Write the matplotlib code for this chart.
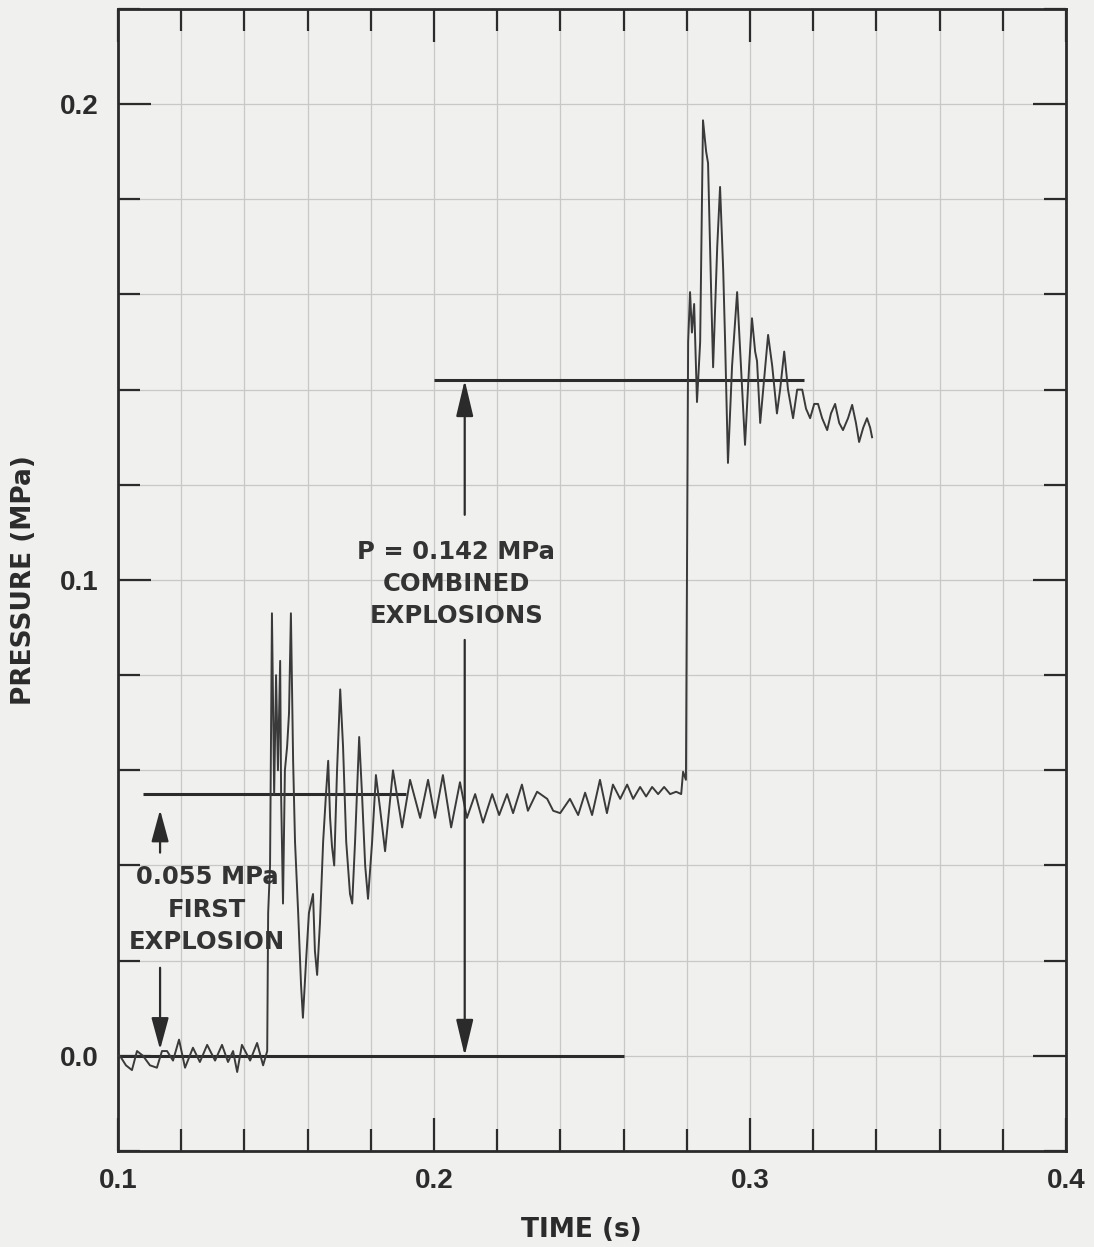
import matplotlib
matplotlib.use("Agg")
import matplotlib.pyplot as plt
from matplotlib.ticker import MultipleLocator, FixedLocator

# Pressure trace: time (s) and pressure (MPa) at the turning points of the record
time_s = [
    0.1000, 0.1006, 0.1025, 0.1044, 0.1060, 0.1079, 0.1101, 0.1123, 0.1139, 0.1155,
    0.1174, 0.1193, 0.1212, 0.1237, 0.1259, 0.1282, 0.1307, 0.1329, 0.1348, 0.1364,
    0.1377, 0.1392, 0.1418, 0.1440, 0.1459, 0.1472,
    0.1475, 0.1481, 0.1487, 0.1494, 0.1500, 0.1506, 0.1513, 0.1516, 0.1522, 0.1528,
    0.1535, 0.1541, 0.1547, 0.1554, 0.1560, 0.1570, 0.1579, 0.1585, 0.1595, 0.1604,
    0.1617, 0.1623, 0.1630, 0.1639, 0.1649, 0.1658, 0.1665, 0.1671, 0.1677, 0.1684,
    0.1693, 0.1703, 0.1712, 0.1722, 0.1734, 0.1741, 0.1750, 0.1763, 0.1772, 0.1782,
    0.1791, 0.1804, 0.1816, 0.1829, 0.1845, 0.1870, 0.1899, 0.1924, 0.1956, 0.1981,
    0.2003, 0.2028, 0.2054, 0.2082, 0.2104, 0.2130, 0.2155, 0.2184, 0.2206, 0.2231,
    0.2250, 0.2278, 0.2297, 0.2326, 0.2358, 0.2377, 0.2399, 0.2430, 0.2456, 0.2478,
    0.2500, 0.2525, 0.2547, 0.2566, 0.2589, 0.2611, 0.2630, 0.2652, 0.2671, 0.2690,
    0.2709, 0.2728, 0.2747, 0.2766, 0.2782, 0.2788, 0.2797,
    0.2804, 0.2810, 0.2816, 0.2823, 0.2832, 0.2842, 0.2851, 0.2861, 0.2867, 0.2877,
    0.2883, 0.2896, 0.2905, 0.2915, 0.2921, 0.2930, 0.2943, 0.2959, 0.2968, 0.2975,
    0.2984, 0.2997, 0.3006, 0.3016, 0.3022, 0.3032, 0.3044, 0.3057, 0.3070, 0.3085,
    0.3095, 0.3108, 0.3120, 0.3136, 0.3149, 0.3165, 0.3177, 0.3190, 0.3203, 0.3215,
    0.3228, 0.3244, 0.3256, 0.3269, 0.3282, 0.3294, 0.3310, 0.3323, 0.3335, 0.3345,
    0.3358, 0.3370, 0.3380, 0.3386,
]
pressure_mpa = [
    0.0000, 0.0000, -0.0020, -0.0030, 0.0010, 0.0000, -0.0020, -0.0025, 0.0010, 0.0010,
    -0.0010, 0.0034, -0.0025, 0.0017, -0.0013, 0.0023, -0.0010, 0.0023, -0.0013, 0.0010,
    -0.0034, 0.0023, -0.0010, 0.0027, -0.0020, 0.0010,
    0.0300, 0.0400, 0.0930, 0.0550, 0.0800, 0.0600, 0.0830, 0.0550, 0.0320, 0.0600,
    0.0650, 0.0720, 0.0930, 0.0620, 0.0450, 0.0300, 0.0150, 0.0080, 0.0200, 0.0300,
    0.0340, 0.0220, 0.0170, 0.0280, 0.0450, 0.0550, 0.0620, 0.0500, 0.0440, 0.0400,
    0.0600, 0.0770, 0.0650, 0.0450, 0.0340, 0.0320, 0.0450, 0.0670, 0.0550, 0.0400,
    0.0330, 0.0450, 0.0590, 0.0520, 0.0430, 0.0600, 0.0480, 0.0580, 0.0500, 0.0580,
    0.0500, 0.0590, 0.0480, 0.0575, 0.0500, 0.0550, 0.0490, 0.0550, 0.0506, 0.0550,
    0.0510, 0.0570, 0.0515, 0.0555, 0.0540, 0.0515, 0.0510, 0.0540, 0.0506, 0.0553,
    0.0506, 0.0580, 0.0510, 0.0570, 0.0540, 0.0570, 0.0540, 0.0565, 0.0545, 0.0565,
    0.0550, 0.0565, 0.0550, 0.0555, 0.0550, 0.0597, 0.0580,
    0.1500, 0.1605, 0.1520, 0.1580, 0.1374, 0.1500, 0.1966, 0.1900, 0.1876, 0.1600,
    0.1447, 0.1700, 0.1826, 0.1650, 0.1500, 0.1246, 0.1450, 0.1605, 0.1490, 0.1400,
    0.1284, 0.1450, 0.1550, 0.1480, 0.1460, 0.1330, 0.1420, 0.1515, 0.1450, 0.1350,
    0.1400, 0.1480, 0.1400, 0.1340, 0.1400, 0.1400, 0.1360, 0.1340, 0.1370, 0.1370,
    0.1340, 0.1315, 0.1350, 0.1370, 0.1330, 0.1315, 0.1340, 0.1368, 0.1330, 0.1290,
    0.1320, 0.1340, 0.1320, 0.1300,
]

# Reference levels: (pressure, start time, end time)
baseline = (0.0, 0.100, 0.260)
first_level = (0.055, 0.108, 0.191)
combined_level = (0.142, 0.200, 0.317)

x_ticks = [0.1, 0.2, 0.3, 0.4]
x_tick_labels = ["0.1", "0.2", "0.3", "0.4"]
y_ticks = [0.0, 0.1, 0.2]
y_tick_labels = ["0.0", "0.1", "0.2"]

BG = "#f0f0ee"
INK = "#2b2b2b"
TICK_FONT = "Liberation Sans"
LABEL_FONT = "DejaVu Sans"

fig = plt.figure(figsize=(10.94, 12.47), dpi=100, facecolor=BG)
ax = fig.add_axes([0.1079, 0.0770, 0.8666, 0.9158], facecolor=BG)

ax.set_xlim(0.1, 0.4)
ax.set_ylim(-0.02, 0.22)

# grid every 0.02 in both directions
ax.xaxis.set_major_locator(FixedLocator(x_ticks))
ax.yaxis.set_major_locator(FixedLocator(y_ticks))
ax.xaxis.set_minor_locator(MultipleLocator(0.02))
ax.yaxis.set_minor_locator(MultipleLocator(0.02))
ax.grid(which="both", color="#c8c8c6", lw=0.9, zorder=0)

ax.set_xticklabels(x_tick_labels, fontfamily=TICK_FONT, fontweight="bold", fontsize=20, color=INK)
ax.set_yticklabels(y_tick_labels, fontfamily=TICK_FONT, fontweight="bold", fontsize=20, color=INK)

ax.tick_params(which="both", direction="in", top=True, right=True, color=INK, width=1.6)
ax.tick_params(which="major", length=24)
ax.tick_params(which="minor", length=16)
ax.tick_params(axis="x", which="major", pad=12)
ax.tick_params(axis="y", which="major", pad=14)

for sp in ax.spines.values():
    sp.set_color(INK)
    sp.set_linewidth(2.0)

# reference levels
for level, t0, t1 in (baseline, first_level, combined_level):
    ax.plot([t0, t1], [level, level], color=INK, lw=2.2, zorder=3, solid_capstyle="butt")

# measured pressure trace
ax.plot(time_s, pressure_mpa, color="#3a3a3a", lw=1.4, zorder=4)

# dimension arrows
big_arrow = dict(arrowstyle="-|>,head_length=1.6,head_width=0.38", color=INK, lw=1.6,
                 mutation_scale=14, shrinkA=0, shrinkB=0)
small_arrow = dict(arrowstyle="-|>,head_length=1.4,head_width=0.38", color=INK, lw=1.6,
                   mutation_scale=14, shrinkA=0, shrinkB=0)

ax.annotate("", xy=(0.2097, combined_level[0]), xytext=(0.2097, 0.1137), arrowprops=big_arrow, zorder=5)
ax.annotate("", xy=(0.2097, 0.0), xytext=(0.2097, 0.0874), arrowprops=big_arrow, zorder=5)
ax.annotate("", xy=(0.1133, 0.0517), xytext=(0.1133, 0.0427), arrowprops=small_arrow, zorder=5)
ax.annotate("", xy=(0.1133, 0.0013), xytext=(0.1133, 0.0185), arrowprops=small_arrow, zorder=5)

text_kw = dict(ha="center", va="center", fontfamily=LABEL_FONT, fontweight="bold",
               fontsize=17.5, color="#333333", zorder=6)
ax.text(0.2070, 0.1058, "P = 0.142 MPa", **text_kw)
ax.text(0.2070, 0.0991, "COMBINED", **text_kw)
ax.text(0.2070, 0.0924, "EXPLOSIONS", **text_kw)

ax.text(0.1282, 0.0376, "0.055 MPa", **text_kw)
ax.text(0.1282, 0.0307, "FIRST", **text_kw)
ax.text(0.1282, 0.0240, "EXPLOSION", **text_kw)

ax.set_xlabel("TIME (s)", fontfamily=LABEL_FONT, fontweight="bold", fontsize=19, color=INK)
ax.set_ylabel("PRESSURE (MPa)", fontfamily=LABEL_FONT, fontweight="bold", fontsize=19, color=INK)
ax.xaxis.set_label_coords(0.489, -0.058)
ax.yaxis.set_label_coords(-0.086, 0.5)

fig.savefig("out.png", dpi=100, facecolor=BG)
